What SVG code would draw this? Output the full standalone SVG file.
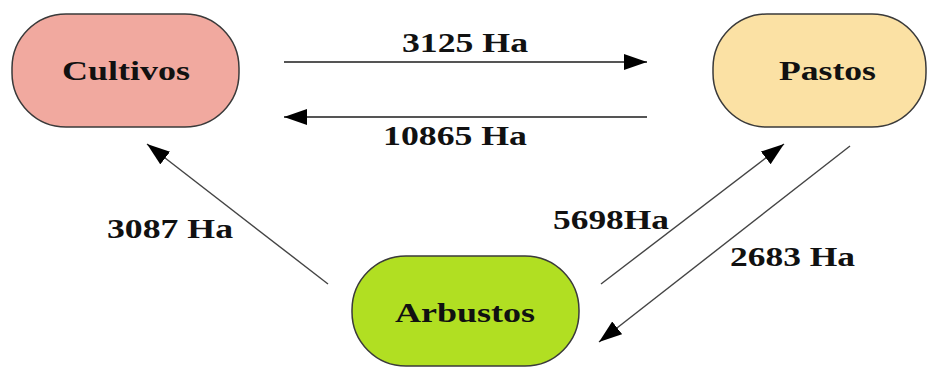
<svg xmlns="http://www.w3.org/2000/svg" width="928" height="368" viewBox="0 0 928 368">
<defs>
<style>
.node{stroke:#3a3a3a;stroke-width:1.5}
.t{font-family:"Liberation Serif","Times New Roman",serif;font-weight:bold;font-size:28px;fill:#111}
.h{stroke:#555;stroke-width:2.2;fill:none}
.d{stroke:#444;stroke-width:1.4;fill:none}
</style>
<marker id="ah" markerUnits="userSpaceOnUse" markerWidth="24" markerHeight="18" refX="23" refY="8" orient="auto">
<path d="M0,0 L23,8 L0,16 Z" fill="#000"/>
</marker>
</defs>
<rect width="928" height="368" fill="#fff"/>
<g id="cultivos">
<rect class="node" x="12" y="14" width="227" height="113" rx="54" ry="54" fill="#F1A99F"/>
<text class="t" x="62" y="80" textLength="128" lengthAdjust="spacingAndGlyphs">Cultivos</text>
</g>
<g id="pastos">
<rect class="node" x="713" y="14" width="213" height="113" rx="54" ry="54" fill="#FBE1A4"/>
<text class="t" x="779" y="80" textLength="97" lengthAdjust="spacingAndGlyphs">Pastos</text>
</g>
<g id="arbustos">
<rect class="node" x="352" y="256" width="227" height="110" rx="54" ry="54" fill="#B1DF22"/>
<text class="t" x="395" y="322" textLength="140" lengthAdjust="spacingAndGlyphs">Arbustos</text>
</g>
<g id="connectors">
<line class="h" x1="284" y1="62" x2="647" y2="62" marker-end="url(#ah)"/>
<line class="h" x1="647" y1="117" x2="284" y2="117" marker-end="url(#ah)"/>
<line class="d" x1="328" y1="284" x2="147" y2="144" marker-end="url(#ah)"/>
<line class="d" x1="601" y1="284" x2="784" y2="144" marker-end="url(#ah)"/>
<line class="d" x1="850" y1="146" x2="599" y2="342" marker-end="url(#ah)"/>
<text class="t" x="402" y="52" textLength="126" lengthAdjust="spacingAndGlyphs">3125 Ha</text>
<text class="t" x="383" y="145" textLength="144" lengthAdjust="spacingAndGlyphs">10865 Ha</text>
<text class="t" x="107" y="238" textLength="126" lengthAdjust="spacingAndGlyphs">3087 Ha</text>
<text class="t" x="553" y="229" textLength="116" lengthAdjust="spacingAndGlyphs">5698Ha</text>
<text class="t" x="730" y="266" textLength="125" lengthAdjust="spacingAndGlyphs">2683 Ha</text>
</g>
</svg>
